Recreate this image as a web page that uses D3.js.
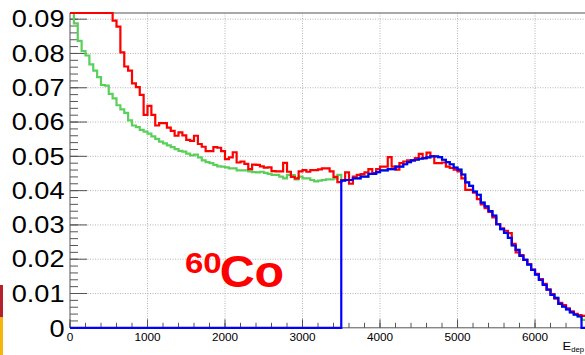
<!DOCTYPE html>
<html>
<head>
<meta charset="utf-8">
<script src="https://cdn.jsdelivr.net/npm/d3@7"></script>
<style>
  html, body { margin: 0; padding: 0; background: #fff; }
  svg { display: block; }
  text { font-family: "Liberation Sans", Arial, Helvetica, sans-serif; }
</style>
</head>
<body>
<svg id="chart" width="585" height="355"></svg>
<script>
// Deposited-energy spectra, 50-unit bins starting at 0
const binWidth = 50;

// measured spectrum (red)
const redValues = [
  0.140, 0.132, 0.124, 0.117, 0.111, 0.106, 0.102, 0.099, 0.097, 0.095,
  0.093, 0.0896, 0.0878, 0.0803, 0.0762, 0.0750, 0.0713, 0.0702, 0.0679, 0.0621,
  0.0647, 0.0621, 0.0590, 0.0597, 0.0597, 0.0584, 0.0574, 0.0560, 0.0570, 0.0561,
  0.0548, 0.0545, 0.0560, 0.0536, 0.0528, 0.0515, 0.0515, 0.0527, 0.0525, 0.0515,
  0.0492, 0.0497, 0.0512, 0.0482, 0.0485, 0.0478, 0.0463, 0.0476, 0.0475, 0.0471,
  0.0467, 0.0468, 0.0457, 0.0456, 0.0456, 0.0481, 0.0455, 0.0440, 0.0436, 0.0456,
  0.0460, 0.0455, 0.0460, 0.0460, 0.0462, 0.0465, 0.0465, 0.0456, 0.0440, 0.0425,
  0.0431, 0.0453, 0.0420, 0.0441, 0.0446, 0.0448, 0.0453, 0.0463, 0.0451, 0.0463,
  0.0470, 0.0470, 0.0498, 0.0470, 0.0461, 0.0480, 0.0485, 0.0488, 0.0488, 0.0495,
  0.0507, 0.0495, 0.0511, 0.0501, 0.0480, 0.0480, 0.0482, 0.0470, 0.0466, 0.0461,
  0.0456, 0.0436, 0.0402, 0.0402, 0.0394, 0.0375, 0.0360, 0.0349, 0.0338, 0.0322,
  0.0302, 0.0290, 0.0283, 0.0276, 0.0245, 0.0220, 0.0212, 0.0198, 0.0186, 0.0170,
  0.0157, 0.0142, 0.0128, 0.0112, 0.0098, 0.0085, 0.0073, 0.0066, 0.0057, 0.0048,
  0.0041, 0.0037, 0.0035
];

// full simulated spectrum (green)
const greenValues = [
  0.0950, 0.0888, 0.0837, 0.0807, 0.0794, 0.0768, 0.0750, 0.0731, 0.0708, 0.0706,
  0.0682, 0.0669, 0.0649, 0.0637, 0.0627, 0.0605, 0.0590, 0.0585, 0.0577, 0.0572,
  0.0566, 0.0558, 0.0551, 0.0543, 0.0538, 0.0532, 0.0527, 0.0521, 0.0516, 0.0514,
  0.0508, 0.0503, 0.0505, 0.0497, 0.0488, 0.0483, 0.0480, 0.0475, 0.0471, 0.0470,
  0.0468, 0.0465, 0.0465, 0.0459, 0.0459, 0.0459, 0.0456, 0.0454, 0.0453, 0.0455,
  0.0452, 0.0449, 0.0446, 0.0446, 0.0441, 0.0436, 0.0446, 0.0445, 0.0433, 0.0441,
  0.0436, 0.0436, 0.0431, 0.0427, 0.0429, 0.0431, 0.0433, 0.0433, 0.0436, 0.0446,
  0.0429, 0.0431, 0.0431, 0.0436, 0.0436, 0.0441, 0.0441, 0.0449, 0.0449, 0.0454,
  0.0459, 0.0459, 0.0463, 0.0463, 0.0470, 0.0470, 0.0477, 0.0483, 0.0488, 0.0490,
  0.0493, 0.0495, 0.0497, 0.0500, 0.0500, 0.0498, 0.0490, 0.0483, 0.0477, 0.0467,
  0.0461, 0.0447, 0.0424, 0.0414, 0.0397, 0.0388, 0.0365, 0.0354, 0.0340, 0.0327,
  0.0302, 0.0288, 0.0277, 0.0262, 0.0240, 0.0227, 0.0210, 0.0198, 0.0184, 0.0169,
  0.0155, 0.0140, 0.0125, 0.0111, 0.0096, 0.0087, 0.0070, 0.0062, 0.0054, 0.0045,
  0.0038, 0.0033, 0.0023
];

// simulated spectrum above the 3500 threshold (blue); empty below it
const blueStart = 3500;
const blueValuesAbove = [
  0.0429, 0.0431, 0.0431, 0.0436, 0.0436, 0.0441, 0.0441, 0.0449, 0.0449, 0.0454,
  0.0459, 0.0459, 0.0463, 0.0463, 0.0470, 0.0470, 0.0477, 0.0483, 0.0488, 0.0490,
  0.0493, 0.0495, 0.0497, 0.0500, 0.0500, 0.0498, 0.0490, 0.0483, 0.0477, 0.0467,
  0.0461, 0.0447, 0.0424, 0.0414, 0.0397, 0.0388, 0.0365, 0.0354, 0.0340, 0.0327,
  0.0302, 0.0288, 0.0277, 0.0262, 0.0240, 0.0227, 0.0210, 0.0198, 0.0184, 0.0169,
  0.0155, 0.0140, 0.0125, 0.0111, 0.0096, 0.0087, 0.0070, 0.0062, 0.0054, 0.0045,
  0.0038, 0.0033, 0
];
const blueValues = new Array(blueStart / binWidth).fill(0).concat(blueValuesAbove);

const xTicks = [0, 1000, 2000, 3000, 4000, 5000, 6000];
const yTicks = [0, 0.01, 0.02, 0.03, 0.04, 0.05, 0.06, 0.07, 0.08, 0.09];
const xTitle = "E";
const xTitleSub = "dep";

const xMax = 6650, yMax = 0.0918;
const frame = { left: 70, right: 585.4, top: 13, bottom: 327.8 };
const stretch = 1.18;

const svg = d3.select("#chart");
const x = d3.scaleLinear().domain([0, xMax]).range([frame.left, frame.right]);
const y = d3.scaleLinear().domain([0, yMax]).range([frame.bottom, frame.top]).clamp(true);

// coloured strip on the left edge
svg.append("rect").attr("x", 0).attr("y", 285).attr("width", 3).attr("height", 32.5).attr("fill", "#b5202a");
svg.append("rect").attr("x", 0).attr("y", 317.5).attr("width", 3).attr("height", 40).attr("fill", "#f6b60c");

// grid
const grid = svg.append("g").attr("stroke", "#b4b4b4").attr("stroke-width", 1).attr("stroke-dasharray", "1,1.5");
grid.selectAll("line.gx").data(xTicks.filter(d => d > 0)).join("line")
  .attr("x1", d => x(d)).attr("x2", d => x(d)).attr("y1", frame.top).attr("y2", frame.bottom);
grid.selectAll("line.gy").data(yTicks.filter(d => d > 0)).join("line")
  .attr("x1", frame.left).attr("x2", frame.right).attr("y1", d => y(d)).attr("y2", d => y(d));

// frame top edge
svg.append("line").attr("x1", frame.left).attr("x2", frame.right).attr("y1", frame.top).attr("y2", frame.top)
  .attr("stroke", "#8c8c8c").attr("stroke-width", 1.6);

// y axis with major and minor ticks
const yAxis = svg.append("g").attr("transform", `translate(${frame.left},0)`);
yAxis.append("line").attr("y1", frame.top).attr("y2", frame.bottom).attr("stroke", "#555");
const yMinor = d3.range(0, yMax, 0.002);
yAxis.selectAll("line.ymin").data(yMinor).join("line")
  .attr("x1", 0).attr("x2", 8).attr("y1", d => y(d)).attr("y2", d => y(d)).attr("stroke", "#555");
yAxis.selectAll("line.ymaj").data(yTicks).join("line")
  .attr("x1", 0).attr("x2", 17).attr("y1", d => y(d)).attr("y2", d => y(d)).attr("stroke", "#555");

// x axis with major and minor ticks
const xAxis = svg.append("g").attr("transform", `translate(0,${frame.bottom})`);
xAxis.append("line").attr("x1", frame.left).attr("x2", frame.right).attr("stroke", "#555");
const xMinor = d3.range(0, xMax, 200);
xAxis.selectAll("line.xmin").data(xMinor).join("line")
  .attr("x1", d => x(d)).attr("x2", d => x(d)).attr("y1", 0).attr("y2", -5).attr("stroke", "#555");
xAxis.selectAll("line.xmaj").data(xTicks).join("line")
  .attr("x1", d => x(d)).attr("x2", d => x(d)).attr("y1", 0).attr("y2", -8.5).attr("stroke", "#555");

// histogram outlines drawn as steps
function stepPath(values) {
  let p = `M${x(0)},${y(values[0])}`;
  values.forEach((v, i) => {
    if (i > 0) p += `V${y(v)}`;
    p += `H${x((i + 1) * binWidth)}`;
  });
  return p;
}
const hist = svg.append("g").attr("fill", "none").attr("stroke-width", 2.2).attr("stroke-linejoin", "miter");
hist.append("path").attr("d", stepPath(greenValues)).attr("stroke", "#5ad05a");
hist.append("path").attr("d", stepPath(redValues)).attr("stroke", "#ff0000");
hist.append("path").attr("d", stepPath(blueValues)).attr("stroke", "#0000ff");

// tick labels
function stretchedText(g, tx, ty, str, size, anchor) {
  return g.append("text")
    .attr("transform", `translate(${tx},${ty}) scale(${stretch},1)`)
    .attr("text-anchor", anchor).attr("font-size", size).attr("fill", "#000").text(str);
}
const labels = svg.append("g");
yTicks.forEach(t => {
  const s = t === 0 ? "0" : d3.format(".2f")(t);
  stretchedText(labels, 64.5, y(t) + (t === 0 ? 9.5 : 8.2), s, 23, "end");
});
xTicks.forEach(t => stretchedText(labels, x(t), 341, String(t), 10, "middle"));

// axis title, anchored at the right edge of the canvas
const title = svg.append("text")
  .attr("transform", `translate(584,350) scale(${stretch},1)`)
  .attr("text-anchor", "end")
  .attr("font-size", 11).attr("fill", "#000");
title.append("tspan").text(xTitle);
title.append("tspan").attr("font-size", 6.5).attr("dy", 2).text(xTitleSub);

// isotope label
const iso = svg.append("text").attr("fill", "#ff0000").attr("font-weight", "bold")
  .attr("transform", "translate(185,0) scale(1.1,1)");
iso.append("tspan").attr("x", 0).attr("y", 273.5).attr("font-size", 30).text("60");
iso.append("tspan").attr("x", 31.5).attr("y", 287).attr("font-size", 44).text("Co");
</script>
</body>
</html>
